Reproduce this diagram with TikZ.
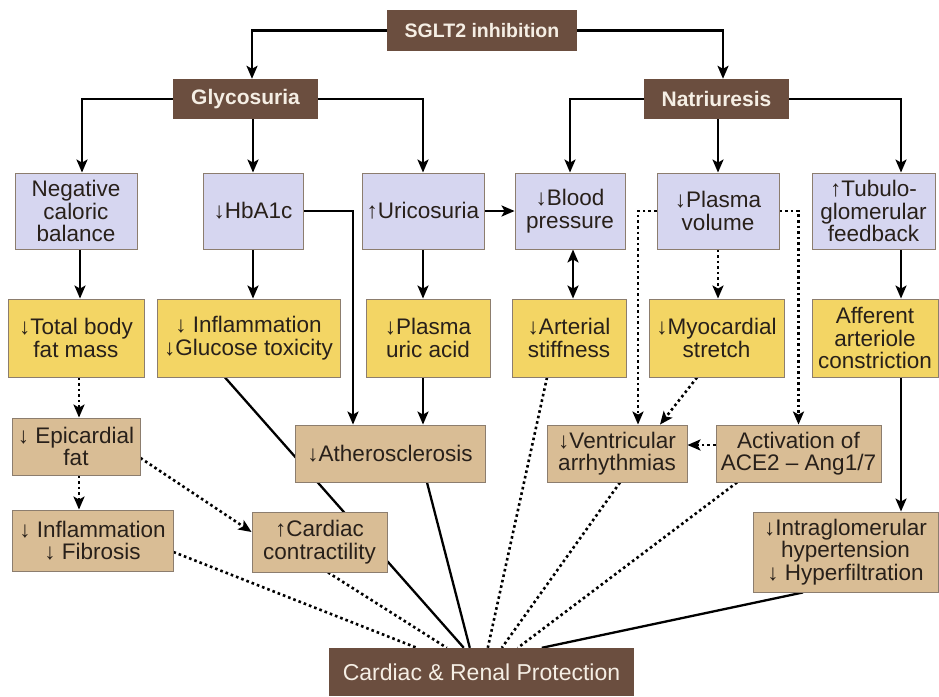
\documentclass[tikz,border=0pt]{standalone}
\usepackage{fontspec}
\setmainfont{Liberation Sans}
\usetikzlibrary{arrows.meta,calc}
\definecolor{hdr}{RGB}{107,78,63}
\definecolor{bluebox}{RGB}{214,214,240}
\definecolor{yel}{RGB}{243,213,100}
\definecolor{tanbox}{RGB}{217,189,149}
\definecolor{edge}{RGB}{140,125,110}
\definecolor{ink}{RGB}{40,32,26}
\definecolor{cream}{RGB}{245,238,228}
\pgfdeclarelayer{bg}
\pgfsetlayers{bg,main}
\begin{document}
\begin{tikzpicture}[x=1pt,y=-1pt,
 box/.style={draw=edge,line width=0.9pt,inner sep=0pt,align=center,text=ink,font=\fontsize{22.5}{22.5}\selectfont},
 hdrbox/.style={fill=hdr,inner sep=0pt,text=cream,font=\bfseries\fontsize{21}{22}\selectfont},
 bluen/.style={box,fill=bluebox},
 yeln/.style={box,fill=yel},
 tann/.style={box,fill=tanbox},
 tip/.tip={Stealth[length=13pt,width=11pt,inset=3pt]},
 arr/.style={line width=2.3pt,-tip},
 darr/.style={line width=2.6pt,dash pattern=on 2.6pt off 3pt,-tip},
 ln/.style={line width=2.3pt},
 dln/.style={line width=2.6pt,dash pattern=on 2.6pt off 3pt}
]
\useasboundingbox (0,0) rectangle (939,696);

% headers
\node[hdrbox,minimum width=190pt,minimum height=41pt,font=\bfseries\fontsize{19.5}{22}\selectfont] (sglt) at (482,30.5) {SGLT2 inhibition};
\node[hdrbox,minimum width=145pt,minimum height=40pt] (gly) at (245.5,99) {Glycosuria};
\node[hdrbox,minimum width=145pt,minimum height=40pt] (nat) at (716.5,99) {Natriuresis};

% blue row
\node[bluen,minimum width=122pt,minimum height=76pt] (neg) at (76,211) {Negative\\caloric\\balance};
\node[bluen,minimum width=100pt,minimum height=76pt] (hba) at (253,211) {↓HbA1c};
\node[bluen,minimum width=122pt,minimum height=76pt] (uri) at (423,211) {↑Uricosuria};
\node[bluen,minimum width=110pt,minimum height=76pt] (bp) at (570,211) {↓Blood\\pressure};
\node[bluen,minimum width=122pt,minimum height=76pt] (pv) at (718,211) {↓Plasma\\volume};
\node[bluen,minimum width=123pt,minimum height=76pt] (tub) at (873.5,211) {↑Tubulo-\\glomerular\\feedback};

% yellow row
\node[yeln,minimum width=136pt,minimum height=78pt] (tbf) at (76,338) {↓Total body\\fat mass};
\node[yeln,minimum width=183pt,minimum height=78pt] (igt) at (248.5,338) {↓ Inflammation\\↓Glucose toxicity};
\node[yeln,minimum width=124pt,minimum height=78pt] (pua) at (428,338) {↓Plasma\\uric acid};
\node[yeln,minimum width=114pt,minimum height=78pt] (as) at (569,338) {↓Arterial\\stiffness};
\node[yeln,minimum width=135pt,minimum height=78pt] (ms) at (716.5,338) {↓Myocardial\\stretch};
\node[yeln,minimum width=126pt,minimum height=78pt] (aac) at (875,338) {Afferent\\arteriole\\constriction};

% tan row 1
\node[tann,minimum width=128pt,minimum height=57pt] (epi) at (76,446.5) {↓ Epicardial\\fat};
\node[tann,minimum width=190pt,minimum height=57pt] (ath) at (390,453.5) {↓Atherosclerosis};
\node[tann,minimum width=140pt,minimum height=57pt] (va) at (617,453.5) {↓Ventricular\\arrhythmias};
\node[tann,minimum width=165pt,minimum height=57pt] (ace) at (798.5,453.5) {Activation of\\ACE2 – Ang1/7};

% tan row 2
\node[tann,minimum width=161pt,minimum height=61pt] (inf) at (92.5,540.5) {↓ Inflammation\\↓ Fibrosis};
\node[tann,minimum width=135pt,minimum height=60pt] (cc) at (319.5,542) {↑Cardiac\\contractility};
\node[tann,minimum width=185pt,minimum height=80pt] (igh) at (845.5,552) {↓Intraglomerular\\hypertension\\↓ Hyperfiltration};

% bottom
\node[fill=hdr,inner sep=0pt,minimum width=305pt,minimum height=48pt,text=cream,font=\fontsize{23}{25}\selectfont] (crp) at (481.5,672) {Cardiac \& Renal Protection};

\begin{pgfonlayer}{bg}
\fill[white] (0,0) rectangle (939,696);
% top level
\draw[arr] (sglt.west) -| ([xshift=6.5pt]gly.north);
\draw[arr] (sglt.east) -| ([xshift=6.5pt]nat.north);
\draw[arr] (gly.west) -| ([xshift=6pt]neg.north);
\draw[arr] (hba.north |- gly.south) -- (hba.north);
\draw[arr] (gly.east) -| (uri.north);
\draw[arr] (nat.west) -| (bp.north);
\draw[arr] (pv.north |- nat.south) -- (pv.north);
\draw[arr] (nat.east) -| ([xshift=27.5pt]tub.north);

% blue to yellow
\draw[arr] ([xshift=4pt]neg.south) -- ([xshift=4pt]neg.south |- tbf.north);
\draw[arr] (hba.south) -- (hba.south |- igt.north);
\draw[arr] (uri.south) -- (uri.south |- pua.north);
\draw[line width=2.3pt,tip-tip] ([xshift=3pt]bp.south) -- ([xshift=3pt]bp.south |- as.north);
\draw[darr] (pv.south) -- (pv.south |- ms.north);
\draw[arr] ([xshift=27.5pt]tub.south) -- ([xshift=27.5pt]tub.south |- aac.north);
\draw[arr] (uri.east) -- (bp.west);

% to row 3
\draw[arr] (hba.east) -| ([xshift=-37pt]ath.north);
\draw[arr] (uri.south |- pua.south) -- (uri.south |- ath.north);
\draw[darr] ([xshift=3pt]tbf.south) -- ([xshift=3pt]tbf.south |- epi.north);
\draw[darr] ([xshift=3pt]epi.south) -- ([xshift=3pt]epi.south |- inf.north);
\draw[darr] ([yshift=-11.5pt]epi.east) -- ([yshift=10pt]cc.west);
\draw[darr] ([xshift=-19.5pt]ms.south) -- ([xshift=43pt]va.north);
\draw[darr] ([yshift=8.5pt]ace.west) -- ([yshift=8.5pt]va.east);
\draw[darr] (pv.west) -| ([xshift=21pt]va.north);
\draw[darr] (pv.east) -| (ace.north);
\draw[arr] ([xshift=26pt]aac.south) -- ([xshift=26pt]aac.south |- igh.north);

% to protection
\coordinate (c1) at ([xshift=88pt]crp.north west);
\coordinate (c2) at ([xshift=118pt]crp.north west);
\coordinate (c3) at ([xshift=135pt]crp.north west);
\coordinate (c4) at ([xshift=141pt]crp.north west);
\coordinate (c5) at ([xshift=159pt]crp.north west);
\coordinate (c6) at ([xshift=173pt]crp.north west);
\coordinate (c7) at ([xshift=189pt]crp.north west);
\coordinate (c8) at ([xshift=213pt]crp.north west);
\draw[dln] ([yshift=-11.5pt]inf.east) -- (c1);
\draw[dln] ([xshift=8.5pt]cc.south) -- (c2);
\draw[ln] ([xshift=-23.5pt]igt.south) -- (c3);
\draw[ln] ([xshift=37pt]ath.south) -- (c4);
\draw[dln] ([xshift=-22pt]as.south) -- (c5);
\draw[dln] ([xshift=3pt]va.south) -- (c6);
\draw[dln] ([xshift=-61.5pt]ace.south) -- (c7);
\draw[ln] ([xshift=-42.5pt]igh.south) -- (c8);
\end{pgfonlayer}
\end{tikzpicture}
\end{document}
